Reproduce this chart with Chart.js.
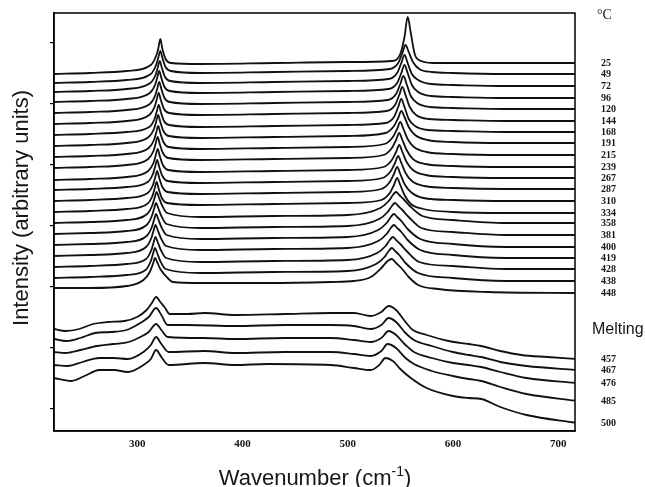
<!DOCTYPE html>
<html><head><meta charset="utf-8">
<script src="https://cdn.jsdelivr.net/npm/chart.js@4.4.0/dist/chart.umd.min.js"></script>
<style>html,body{margin:0;padding:0;background:#fff;} canvas{display:block;}</style>
</head><body>
<canvas id="c" width="645" height="487"></canvas>
<script>
// ---- tick values ----
const xTicks = [300, 400, 500, 600, 700];
const yTicks = [0, 61, 122, 183, 244, 305, 366];

// ---- temperature labels (°C) ----
const solidTemps = ['25','49','72','96','120','144','168','191','215','239','267','287','310','334','358','381','400','419','428','438','448'];
const meltTemps = ['457','467','476','485','500'];

// ---- spectra: [wavenumber cm-1, intensity (arbitrary units)] ----
const t25 = [[221,335],[255,336],[290,338],[313,344],[318,353],[320,360],[322,370],[324,360],[327,350],[332,346],[360,345],[430,346],[500,347],[542,348],[550,355],[554,372],[557,392],[560,376],[564,354],[570,348],[582,346],[600,346],[650,346],[718,346]];
const t49 = [[221,326],[255,327],[290,329],[313,335],[318,344],[320,351],[322,358],[324,351],[327,342],[332,338],[360,336],[430,337],[500,338],[540,340],[548,346],[552,356],[555,364],[558,357],[562,347],[568,340],[580,337],[600,336],[650,335],[718,335]];
const t72 = [[221,317],[255,318],[290,320],[312.5,326],[317.5,334],[319.5,341],[321.5,348],[323.5,341],[326.5,332],[331.5,328],[360,326],[430,327],[500,328],[539,330],[547,336],[551,346],[554,354],[557,346],[561,335],[567,329],[579,325],[600,324],[650,323],[718,323]];
const t96 = [[221,307],[255,308],[290,310],[312,316],[317,324],[319,331],[321,338],[323,331],[326,322],[331,318],[360,316],[430,317],[500,318],[539,320],[547,326],[551,336],[554,344],[557,336],[561,324],[567,317],[579,313],[600,312],[650,311],[718,311]];
const t120 = [[221,296],[255,297],[290,299],[312,305],[317,313],[319,320],[321,327],[323,320],[326,311],[331,307],[360,305],[430,306],[500,307],[538,309],[546,315],[550,325],[553,333],[556,325],[560,313],[566,306],[578,302],[600,301],[650,300],[718,300]];
const t144 = [[221,285],[255,286],[290,288],[311.5,294],[316.5,302],[318.5,309],[320.5,316],[322.5,309],[325.5,300],[330.5,296],[360,294],[430,295],[500,296],[537,298],[545,304],[549,314],[552,322],[555,314],[559,302],[565,294],[577,290],[600,289],[650,288],[718,288]];
const t168 = [[221,274],[255,275],[290,277],[311.5,282],[316.5,290],[318.5,297],[320.5,304],[322.5,297],[325.5,288],[330.5,284],[360,282],[430,283],[500,284],[536,286],[544,292],[548,302],[551,310],[554,302],[558,290],[564,283],[576,279],[600,278],[650,277],[718,277]];
const t191 = [[221,263],[255,264],[290,266],[311,272],[316,280],[318,287],[320,294],[322,287],[325,278],[330,273],[360,271],[430,272],[500,273],[536,276],[544,283],[548,291],[551,298],[554,292],[558,282],[564,274],[576,269],[600,267],[650,266],[718,266]];
const t215 = [[221,252],[255,253],[290,255],[311,261],[316,269],[318,276],[320,283],[322,276],[325,267],[330,262],[360,260],[430,261],[500,262],[535,265],[543,272],[547,280],[550,287],[553,280],[557,270],[563,262],[575,257],[600,255],[650,254],[718,254]];
const t239 = [[221,241],[255,242],[290,244],[310.5,250],[315.5,258],[317.5,265],[319.5,272],[321.5,265],[324.5,256],[329.5,251],[360,249],[430,250],[500,251],[534,254],[542,261],[546,269],[549,276],[552,269],[556,259],[562,250],[574,245],[600,243],[650,242],[718,242]];
const t267 = [[221,229],[255,230],[290,232],[310.5,238],[315.5,246],[317.5,253],[319.5,260],[321.5,253],[324.5,244],[329.5,239],[360,237],[430,238],[500,239],[534,242],[542,249],[546,257],[549,264],[552,257],[556,247],[562,239],[574,234],[600,232],[650,231],[718,231]];
const t287 = [[221,219],[255,220],[290,222],[310,227],[315,235],[317,242],[319,249],[321,242],[324,233],[329,228],[360,226],[430,227],[500,228],[533,231],[541,238],[545,246],[548,253],[551,246],[555,236],[561,228],[573,223],[600,221],[650,220],[718,220]];
const t310 = [[221,208],[255,209],[290,211],[310,216],[315,224],[317,231],[319,238],[321,231],[324,222],[329,217],[360,215],[430,216],[500,217],[532,220],[540,227],[544,235],[547,242],[550,235],[554,225],[560,217],[572,211],[600,209],[650,208],[718,208]];
const t334 = [[221,197],[255,198],[290,200],[309.5,205],[314.5,213],[316.5,220],[318.5,227],[320.5,220],[323.5,211],[328.5,206],[360,204],[430,205],[500,206],[532,209],[540,216],[544,224],[547,231],[550,224],[554,214],[560,205],[572,200],[600,197],[650,196],[718,196]];
const t358 = [[221,186],[255,187],[290,189],[309.5,195],[314.5,204],[316.5,211],[318.5,217],[320.5,212],[323.5,204],[328.5,196],[360,192],[430,193],[500,194],[531,201],[539,208],[543,214],[546,217],[549,214],[553,210],[559,203],[571,193],[600,189],[650,186],[718,186]];
const t381 = [[221,175],[255,176],[290,178],[309,184],[314,193],[316,200],[318,206],[320,201],[323,193],[328,185],[360,181],[430,182],[500,183],[530,190],[538,197],[542,203],[545,206],[548,203],[552,199],[558,192],[570,181],[600,177],[650,174],[718,174]];
const t400 = [[221,164],[255,165],[290,167],[309,173],[314,182],[316,189],[318,195],[320,190],[323,182],[328,174],[360,170],[430,171],[500,172],[529,179],[537,186],[541,192],[544,195],[547,192],[551,188],[557,180],[569,170],[600,165],[650,162],[718,162]];
const t419 = [[221,153],[255,154],[290,156],[308.5,162],[313.5,171],[315.5,178],[317.5,184],[319.5,179],[322.5,171],[327.5,163],[360,159],[430,160],[500,161],[529,168],[537,175],[541,181],[544,184],[547,181],[551,177],[557,169],[569,159],[600,154],[650,151],[718,151]];
const t428 = [[221,142],[255,143],[290,145],[308.5,150],[313.5,159],[315.5,166],[317.5,172],[319.5,167],[322.5,159],[327.5,151],[360,147],[430,148],[500,149],[528,156],[536,163],[540,169],[543,172],[546,169],[550,165],[556,158],[568,147],[600,143],[650,140],[718,140]];
const t438 = [[221,131],[255,132],[290,134],[308,139],[313,148],[315,155],[317,161],[319,156],[322,148],[327,140],[360,136],[430,137],[500,138],[527,145],[535,152],[539,158],[542,161],[545,158],[549,154],[555,146],[567,136],[600,131],[650,128],[718,128]];
const t448 = [[221,121],[255,121],[290,123],[306,129],[312,137],[315,145],[317,151],[319,147],[322,140],[329,131],[334,127],[360,126],[424,126],[484,127],[506,128],[522,132],[532,141],[538,148],[542,150],[546,146],[551,141],[558,132],[567,124],[586,120],[634,117],[718,116]];

const m457 = [[221,80],[232,78],[245,80],[258,85],[272,87],[288,88],[300,92],[309,99],[314,106],[318,112],[322,107],[326,102],[331,95],[348,95],[364,96],[393,94],[440,95],[484,96],[506,96],[522,93],[532,97],[539,103],[546,99],[555,87],[562,79],[575,74],[596,68],[615,65],[627,63],[645,58],[665,54],[690,52],[718,50]];
const m467 = [[221,70],[233,68],[246,71],[260,76],[275,77],[290,79],[303,86],[311,92],[318,101],[323,94],[329,84],[348,84],[393,83],[440,84],[484,84],[506,83],[522,80],[532,84],[539,91],[546,87],[555,76],[563,69],[580,63],[600,57],[615,54],[627,52],[645,47],[670,43],[718,39]];
const m476 = [[221,57],[232,56],[246,59],[262,63],[278,65],[292,67],[303,72],[311,77],[318,85],[323,79],[329,72],[364,71],[393,70],[440,71],[484,71],[506,69],[522,67],[532,71],[539,78],[546,74],[555,64],[563,57],[580,51],[600,46],[615,44],[627,42],[645,37],[670,31],[718,26]];
const m485 = [[221,44],[234,43],[248,47],[264,51],[278,51],[291,50],[306,57],[313,64],[318,72],[323,65],[330,57],[364,58],[393,56],[440,57],[484,57],[506,55],[522,53],[532,58],[538,65],[546,61],[555,51],[563,45],[580,38],[600,33],[615,30],[627,28],[645,22],[670,15],[718,8]];
const m500 = [[221,31],[237,28],[250,33],[264,39],[278,39],[291,37],[306,44],[313,50],[318,59],[323,52],[330,44],[364,46],[393,44],[424,45],[484,44],[506,41],[522,39],[530,44],[536,51],[543,48],[550,40],[560,31],[575,21],[600,13],[615,11],[627,10],[645,2],[670,-6],[718,-14]];

const solidSpectra = [t25,t49,t72,t96,t120,t144,t168,t191,t215,t239,t267,t287,t310,t334,t358,t381,t400,t419,t428,t438,t448];
const meltSpectra = [m457,m467,m476,m485,m500];
const allSpectra = solidSpectra.concat(meltSpectra);
const allTemps = solidTemps.concat(meltTemps);

const datasets = allSpectra.map((s, i) => ({
  label: allTemps[i] + ' °C',
  data: s,
  borderColor: '#111',
  borderWidth: 1.8,
  pointRadius: 0,
  fill: false,
  cubicInterpolationMode: 'monotone'
}));

const TEXT = '#161616';
const SANS = '"Liberation Sans", Arial, sans-serif';
const SERIF = '"Liberation Serif", "Times New Roman", serif';

const annot = {
  id: 'annot',
  afterDraw(chart) {
    const { ctx, chartArea: a, scales: { y } } = chart;
    ctx.save();
    ctx.strokeStyle = '#000';
    ctx.lineWidth = 1.5;
    ctx.strokeRect(a.left, a.top, a.right - a.left, a.bottom - a.top);

    ctx.fillStyle = TEXT;
    ctx.textAlign = 'left';
    ctx.textBaseline = 'middle';
    ctx.font = 'bold 10px ' + SERIF;
    allSpectra.forEach((s, i) => {
      const last = s[s.length - 1][1];
      ctx.fillText(allTemps[i], 601, y.getPixelForValue(last));
    });
    ctx.font = '14px ' + SERIF;
    ctx.fillText('°C', 597, 15);
    ctx.textBaseline = 'alphabetic';
    ctx.font = '16px ' + SANS;
    ctx.fillText('Melting', 592, 334);

    // x title with superscript
    const p1 = 'Wavenumber (cm', sup = '-1', p2 = ')';
    ctx.font = '22px ' + SANS;
    const w1 = ctx.measureText(p1).width, w3 = ctx.measureText(p2).width;
    ctx.font = '14px ' + SANS;
    const w2 = ctx.measureText(sup).width;
    const sx = 315 - (w1 + w2 + w3) / 2;
    ctx.font = '22px ' + SANS;
    ctx.fillText(p1, sx, 485);
    ctx.fillText(p2, sx + w1 + w2, 485);
    ctx.font = '14px ' + SANS;
    ctx.fillText(sup, sx + w1, 476);

    // y title
    ctx.translate(28, 208);
    ctx.rotate(-Math.PI / 2);
    ctx.textAlign = 'center';
    ctx.font = '22px ' + SANS;
    ctx.fillText('Intensity (arbitrary units)', 0, 0);
    ctx.restore();
  }
};

new Chart(document.getElementById('c'), {
  type: 'line',
  data: { datasets },
  options: {
    responsive: false,
    animation: false,
    devicePixelRatio: 1,
    layout: { padding: { left: 0, top: 13, right: 70, bottom: 0 } },
    plugins: { legend: { display: false }, tooltip: { enabled: false } },
    scales: {
      x: {
        type: 'linear',
        min: 221, max: 716,
        afterBuildTicks: s => { s.ticks = xTicks.map(v => ({ value: v })); },
        afterFit: s => { s.height = 56; },
        grid: { display: false, drawTicks: false },
        border: { display: true, color: '#000', width: 1.5 },
        ticks: { color: TEXT, padding: 7, maxRotation: 0, font: { family: SERIF, weight: 'bold', size: 11 } }
      },
      y: {
        type: 'linear',
        min: -22, max: 396,
        afterBuildTicks: s => { s.ticks = yTicks.map(v => ({ value: v })); },
        afterFit: s => { s.width = 54; },
        grid: { drawOnChartArea: false, drawTicks: true, tickLength: 4, color: '#000', lineWidth: 1.2 },
        border: { display: true, color: '#000', width: 1.5 },
        ticks: { display: false }
      }
    }
  },
  plugins: [annot]
});
</script>
</body></html>
